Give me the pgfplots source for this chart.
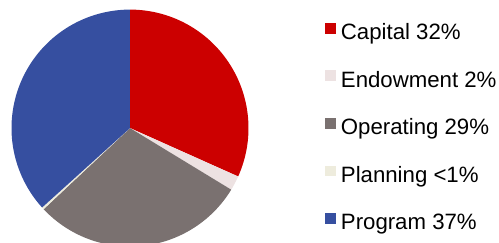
\documentclass[border=0pt]{standalone}
\usepackage{pgfplots}
\pgfplotsset{compat=1.18}
\usepackage{fontspec}
\setmainfont{Liberation Sans}
\definecolor{capc}{HTML}{CC0000}
\definecolor{endc}{HTML}{EDE2E2}
\definecolor{opc}{HTML}{7A7170}
\definecolor{planc}{HTML}{EEECDD}
\definecolor{progc}{HTML}{364FA0}
% slice shares in percent
\def\vA{31.7}\def\vB{2.0}\def\vC{29.3}\def\vD{0.3}\def\vE{36.7}
\pgfmathsetmacro\aA{90}
\pgfmathsetmacro\aB{\aA-3.6*\vA}
\pgfmathsetmacro\aC{\aB-3.6*\vB}
\pgfmathsetmacro\aD{\aC-3.6*\vC}
\pgfmathsetmacro\aE{\aD-3.6*\vD}
\pgfmathsetmacro\aF{\aE-3.6*\vE}
\begin{document}
\begin{tikzpicture}
\begin{axis}[scale only axis, width=12.475cm, height=6.075cm,
  xmin=-1.097, xmax=3.114, ymin=-0.970, ymax=1.081, hide axis,
  legend cell align=left,
  legend image code/.code={\fill[#1] (0pt,0pt) rectangle (7.8pt,7.8pt);},
  legend style={at={(axis cs:1.646,0.887)}, anchor=north west, draw=none, fill=none,
    inner sep=0pt, outer sep=0pt, font=\fontsize{15.8}{18}\selectfont,
    row sep=19.0pt, nodes={inner sep=0pt, text height=11pt, text depth=3pt},
    /tikz/every odd column/.append style={column sep=3.5pt}}]
\addplot[fill=capc, draw=none, domain=\aB:\aA, samples=80, variable=\t] ({cos(t)},{sin(t)}) -- (axis cs:0,0) -- cycle;
\addlegendentry{Capital 32\%}
\addplot[fill=endc, draw=none, domain=\aC:\aB, samples=10, variable=\t] ({cos(t)},{sin(t)}) -- (axis cs:0,0) -- cycle;
\addlegendentry{Endowment 2\%}
\addplot[fill=opc, draw=none, domain=\aD:\aC, samples=80, variable=\t] ({cos(t)},{sin(t)}) -- (axis cs:0,0) -- cycle;
\addlegendentry{Operating 29\%}
\addplot[fill=planc, draw=none, domain=\aE:\aD, samples=4, variable=\t] ({cos(t)},{sin(t)}) -- (axis cs:0,0) -- cycle;
\addlegendentry{Planning <1\%}
\addplot[fill=progc, draw=none, domain=\aF:\aE, samples=90, variable=\t] ({cos(t)},{sin(t)}) -- (axis cs:0,0) -- cycle;
\addlegendentry{Program 37\%}
\end{axis}
\pgfresetboundingbox
\path (current axis.south west) rectangle (current axis.north east);
\end{tikzpicture}
\end{document}
